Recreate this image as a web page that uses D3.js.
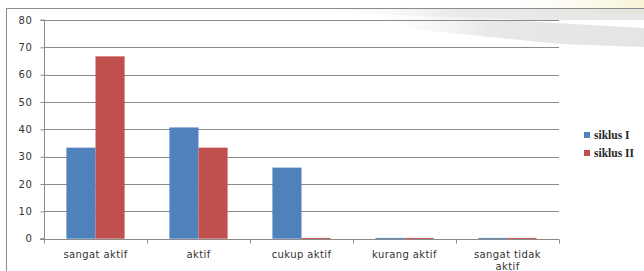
<!DOCTYPE html>
<html>
<head>
<meta charset="utf-8">
<script src="https://cdn.jsdelivr.net/npm/d3@7"></script>
<style>
  html, body { margin: 0; padding: 0; background: #ffffff; }
  svg { display: block; }
</style>
</head>
<body>
<svg id="chart" width="644" height="271"></svg>
<script>
// ---- data ----
const categories = [["sangat aktif"], ["aktif"], ["cukup aktif"], ["kurang aktif"], ["sangat tidak", "aktif"]];
const seriesNames = ["siklus I", "siklus II"];
const siklus1 = [33.3, 40.7, 26.0, 0.3, 0.3];
const siklus2 = [66.7, 33.3, 0.3, 0.3, 0.3];
const yTicks = [0, 10, 20, 30, 40, 50, 60, 70, 80];
const colors = ["#4F81BD", "#C0504D"];

const svg = d3.select("#chart");
const W = 644, H = 271;

// background decorative streaks (document background)
const defs = svg.append("defs");
const g1 = defs.append("linearGradient").attr("id", "streak").attr("x1", "0%").attr("x2", "100%");
g1.append("stop").attr("offset", "0%").attr("stop-color", "#ffffff").attr("stop-opacity", 0);
g1.append("stop").attr("offset", "45%").attr("stop-color", "#d9d9d9").attr("stop-opacity", 0.8);
g1.append("stop").attr("offset", "100%").attr("stop-color", "#dcdcdc").attr("stop-opacity", 1);
const g2 = defs.append("linearGradient").attr("id", "yel").attr("x1", "0%").attr("x2", "100%");
g2.append("stop").attr("offset", "0%").attr("stop-color", "#ffffff").attr("stop-opacity", 0);
g2.append("stop").attr("offset", "100%").attr("stop-color", "#f7f3d6").attr("stop-opacity", 1);

svg.append("rect").attr("x", 480).attr("y", 0).attr("width", 164).attr("height", 14).attr("fill", "url(#yel)");
svg.append("path").attr("d", "M300,8 L644,8 L644,20 L520,20 L300,11 Z").attr("fill", "url(#streak)").attr("opacity", 0.7);
svg.append("path").attr("d", "M360,12 L644,28 L644,47 L560,44 L420,30 Z").attr("fill", "url(#streak)").attr("opacity", 0.75);

// frame
svg.append("line").attr("x1", 6).attr("x2", W).attr("y1", 8.5).attr("y2", 8.5).attr("stroke", "#8c8c8c").attr("stroke-width", 1);
svg.append("line").attr("x1", 6.5).attr("x2", 6.5).attr("y1", 8).attr("y2", H).attr("stroke", "#8c8c8c").attr("stroke-width", 1);

// plot area
const x0 = 44, x1 = 559, yTop = 20, yBot = 238.7;
const x = d3.scaleBand().domain(d3.range(categories.length)).range([x0, x1]).paddingInner(0).paddingOuter(0);
const xs = d3.scaleBand().domain(d3.range(seriesNames.length)).range([0, x.bandwidth()]).paddingInner(0).paddingOuter(0.77);
const y = d3.scaleLinear().domain([0, 80]).range([yBot, yTop]);

// gridlines
svg.append("g").selectAll("line").data(yTicks.filter(d => d > 0)).join("line")
  .attr("x1", x0).attr("x2", x1)
  .attr("y1", d => Math.round(y(d)) + 0.5).attr("y2", d => Math.round(y(d)) + 0.5)
  .attr("stroke", "#8a8a8a").attr("stroke-width", 1);

// bars
const series = [siklus1, siklus2];
series.forEach((vals, si) => {
  svg.append("g").selectAll("rect").data(vals).join("rect")
    .attr("x", (d, i) => x(i) + xs(si))
    .attr("width", xs.bandwidth())
    .attr("y", d => y(d))
    .attr("height", d => Math.max(1, y(0) - y(d)))
    .attr("fill", colors[si]);
});

// y axis
const yAxis = d3.axisLeft(y).tickValues(yTicks).tickSize(4).tickPadding(8).tickFormat(d3.format("d"));
const ya = svg.append("g").attr("transform", `translate(${x0 + 0.5},0)`).call(yAxis);
ya.select(".domain").attr("stroke", "#8a8a8a").attr("d", `M-4,${yTop}H0V${yBot}H-4`);
ya.selectAll(".tick line").attr("stroke", "#8a8a8a");
ya.selectAll(".tick text").attr("fill", "#333").style("font-family", "DejaVu Sans").style("font-size", "10px").style("letter-spacing", "0.6px");

// x axis
const xa = svg.append("g").attr("transform", `translate(0,${Math.round(yBot) + 0.5})`);
xa.append("line").attr("x1", x0 - 4).attr("x2", x1).attr("stroke", "#8a8a8a");
xa.selectAll("line.tk").data(d3.range(categories.length + 1)).join("line").attr("class", "tk")
  .attr("x1", i => Math.round(x0 + i * x.step()) + 0.5).attr("x2", i => Math.round(x0 + i * x.step()) + 0.5)
  .attr("y1", 0).attr("y2", 4).attr("stroke", "#8a8a8a");
const lbl = xa.selectAll("text").data(categories).join("text")
  .attr("x", (d, i) => x(i) + x.bandwidth() / 2)
  .attr("y", 18)
  .attr("text-anchor", "middle")
  .attr("fill", "#333")
  .style("font-family", "DejaVu Sans").style("font-size", "10px").style("letter-spacing", "0.4px");
lbl.each(function(lines) {
  const t = d3.select(this);
  lines.forEach((l, k) => t.append("tspan").attr("x", t.attr("x")).attr("dy", k === 0 ? 0 : 12).text(l));
});

// legend
const lg = svg.append("g").attr("transform", "translate(584,135)");
seriesNames.forEach((n, i) => {
  const r = lg.append("g").attr("transform", `translate(0,${i * 18})`);
  r.append("rect").attr("x", 0).attr("y", -3).attr("width", 6).attr("height", 6).attr("fill", colors[i]);
  r.append("text").attr("x", 10).attr("y", 4).text(n)
    .attr("fill", "#262626").style("font-family", "Liberation Serif").style("font-size", "11.5px").style("font-weight", "bold");
});
</script>
</body>
</html>
